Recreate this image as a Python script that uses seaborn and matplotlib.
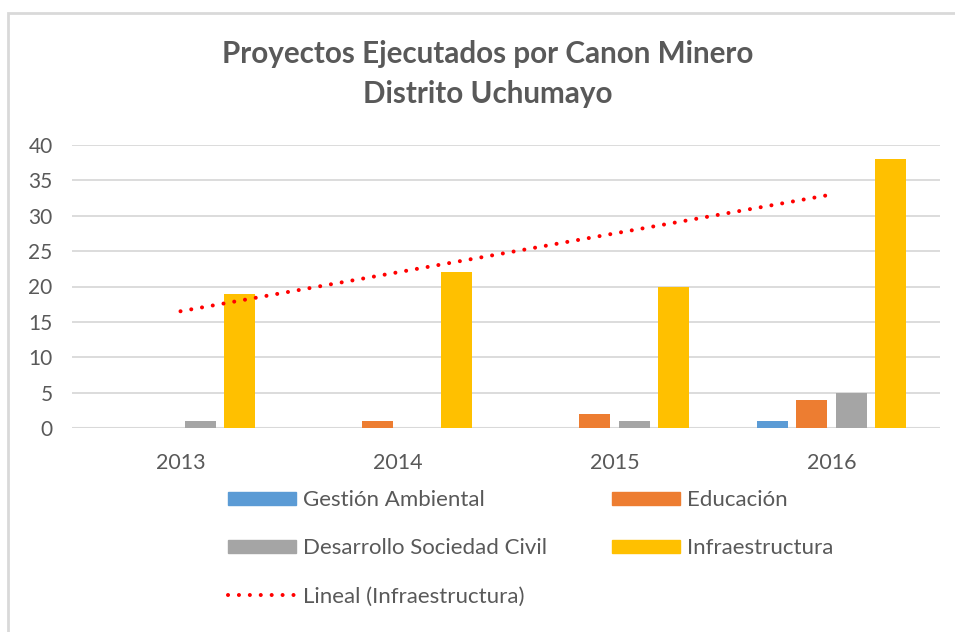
import numpy as np
import pandas as pd
import matplotlib
matplotlib.use('Agg')
import matplotlib.pyplot as plt
import seaborn as sns
from matplotlib.patches import Patch, Rectangle
from matplotlib.lines import Line2D

# Data
years = ['2013', '2014', '2015', '2016']
categories = ['Gestión Ambiental', 'Educación', 'Desarrollo Sociedad Civil', 'Infraestructura']
gestion = [0, 0, 0, 1]
educacion = [0, 1, 2, 4]
desarrollo = [1, 0, 1, 5]
infraestructura = [19, 22, 20, 38]
colors = ['#5b9bd5', '#ed7d31', '#a5a5a5', '#ffc000']

df = pd.DataFrame({
    'year': years * 4,
    'category': np.repeat(categories, 4),
    'value': gestion + educacion + desarrollo + infraestructura,
})

sns.set_style('white')
plt.rcParams['font.family'] = ['Lato', 'DejaVu Sans']

fig = plt.figure(figsize=(9.55, 6.32), dpi=100)
ax = fig.add_axes([72 / 955, 1 - 428 / 632, (940 - 72) / 955, (428 - 145) / 632])

sns.barplot(data=df, x='year', y='value', hue='category', hue_order=categories,
            palette=colors, saturation=1, width=0.73, gap=0.22, linewidth=0,
            legend=False, ax=ax)

# linear trendline for Infraestructura, like the Excel one
xpos = np.arange(len(years))
slope, intercept = np.polyfit(xpos, infraestructura, 1)
ax.plot(xpos, slope * xpos + intercept, color='#ff0000', lw=2.9,
        linestyle=(0, (0.01, 2.7)), dash_capstyle='round', zorder=5)

ax.set_ylim(0, 40)
ax.set_xlim(-0.5, 3.5)
ax.set_yticks(range(0, 41, 5))
ax.yaxis.grid(True, color='#d9d9d9', lw=1.3)
ax.set_axisbelow(True)
for s in ax.spines.values():
    s.set_visible(False)
ax.axhline(0, color='#d9d9d9', lw=1.5, zorder=0)
ax.set_xlabel('')
ax.set_ylabel('')
ax.tick_params(axis='y', labelsize=15, colors='#595959', pad=14, length=0)
ax.tick_params(axis='x', labelsize=15.5, colors='#595959', pad=18, length=0)

fig.text(488 / 955, 1 - 74 / 632, 'Proyectos Ejecutados por Canon Minero\nDistrito Uchumayo',
         ha='center', va='center', fontsize=21.3, fontweight='bold', color='#595959',
         linespacing=1.5)

handles = [Patch(color=colors[0]), Patch(color=colors[2]),
           Line2D([], [], color='#ff0000', lw=2.9, linestyle=(0, (0.01, 2.7)), dash_capstyle='round'),
           Patch(color=colors[1]), Patch(color=colors[3])]
labels = [categories[0], categories[2], 'Lineal (Infraestructura)', categories[1], categories[3]]
leg = fig.legend(handles, labels, ncol=2, loc='upper left', bbox_to_anchor=(228 / 955, 1 - 490 / 632),
                 frameon=False, fontsize=16, labelcolor='#595959', handlelength=3.06,
                 handleheight=0.54, handletextpad=0.32, labelspacing=1.27, columnspacing=2.9,
                 borderpad=0, borderaxespad=0)

# chart border
fig.patches.append(Rectangle((8 / 955, -0.1), 1.2, 1 - 13 / 632 + 0.1, transform=fig.transFigure,
                             fill=False, edgecolor='#d9d9d9', lw=2))

fig.savefig('out.png', dpi=100)
